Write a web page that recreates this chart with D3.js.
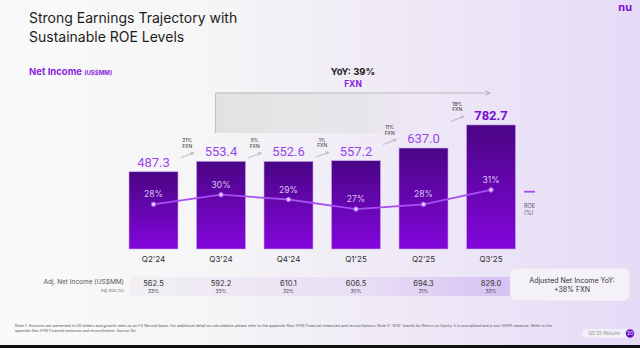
<!DOCTYPE html>
<html>
<head>
<meta charset="utf-8">
<script src="https://cdn.jsdelivr.net/npm/d3@7/dist/d3.min.js"></script>
<style>
  html, body { margin: 0; padding: 0; background: #fff; }
  svg { display: block; font-family: Inter, "Open Sans", sans-serif; }
</style>
</head>
<body>
<div id="chart"></div>
<script>
// chart values
const quarters = ["Q2'24", "Q3'24", "Q4'24", "Q1'25", "Q2'25", "Q3'25"];
const netIncome = [487.3, 553.4, 552.6, 557.2, 637.0, 782.7];
const roe = [28, 30, 29, 27, 28, 31];
const qoqGrowth = ["21%", "5%", "1%", "11%", "18%"];
const adjNetIncome = ["562.5", "592.2", "610.1", "606.5", "694.3", "829.0"];
const adjRoe = ["33%", "33%", "32%", "30%", "31%", "33%"];

const width = 640, height = 348;
const purple = "#820ad1";

const svg = d3.select("#chart").append("svg")
  .attr("width", width)
  .attr("height", height);

const defs = svg.append("defs");

// background gradient
const bg = defs.append("linearGradient").attr("id", "bg");
bg.append("stop").attr("offset", "0%").attr("stop-color", "#fafafa");
bg.append("stop").attr("offset", "35%").attr("stop-color", "#f5f4f6");
bg.append("stop").attr("offset", "100%").attr("stop-color", "#e6dbf7");

const barGrad = defs.append("linearGradient").attr("id", "barGrad")
  .attr("x1", 0).attr("y1", 0).attr("x2", 0).attr("y2", 1);
barGrad.append("stop").attr("offset", "0%").attr("stop-color", "#4a0584");
barGrad.append("stop").attr("offset", "100%").attr("stop-color", "#8306dc");

const boxGrad = defs.append("linearGradient").attr("id", "boxGrad");
boxGrad.append("stop").attr("offset", "0%").attr("stop-color", "#e2e2e2").attr("stop-opacity", 1);
boxGrad.append("stop").attr("offset", "70%").attr("stop-color", "#e6e4e8").attr("stop-opacity", 0.8);
boxGrad.append("stop").attr("offset", "100%").attr("stop-color", "#ebe3f5").attr("stop-opacity", 0);

const tableGrad = defs.append("linearGradient").attr("id", "tableGrad");
tableGrad.append("stop").attr("offset", "0%").attr("stop-color", "#f2f0f4");
tableGrad.append("stop").attr("offset", "60%").attr("stop-color", "#e8def4");
tableGrad.append("stop").attr("offset", "100%").attr("stop-color", "#d6bff3");

const arrowMarker = defs.append("marker").attr("id", "arr")
  .attr("viewBox", "0 0 10 10").attr("refX", 9).attr("refY", 5)
  .attr("markerWidth", 5).attr("markerHeight", 5).attr("orient", "auto");
arrowMarker.append("path").attr("d", "M1,1 L9,5 L1,9").attr("fill", "none")
  .attr("stroke", "#aaa").attr("stroke-width", 1.5);

svg.append("rect").attr("width", width).attr("height", height).attr("fill", "url(#bg)");
svg.append("rect").attr("y", 345).attr("width", width).attr("height", 3).attr("fill", "#111");

// logo
svg.append("text").attr("x", 632).attr("y", 11).attr("text-anchor", "end")
  .attr("font-size", 11).attr("font-weight", 700).attr("fill", purple).text("nu");

// title
const title = svg.append("text").attr("x", 29).attr("fill", "#1c1c1c").attr("font-size", 14);
title.append("tspan").attr("x", 29).attr("y", 23).text("Strong Earnings Trajectory with");
title.append("tspan").attr("x", 29).attr("y", 41.5).text("Sustainable ROE Levels");

const sub = svg.append("text").attr("x", 29).attr("y", 75).attr("fill", "#8a1de0")
  .attr("font-weight", 700).attr("font-size", 9.5);
sub.append("tspan").text("Net Income ");
sub.append("tspan").attr("font-size", 6).text("(US$MM)");

// scales
const x = d3.scaleBand().domain(quarters).range([119.75, 524.75])
  .paddingInner(0.274).paddingOuter(0.137);
const y = d3.scaleLinear().domain([0, 800]).range([249, 122.2]);
const yRoe = d3.scaleLinear().domain([20, 35]).range([242.7, 170.7]);
const cx = q => x(q) + x.bandwidth() / 2;

// YoY bracket
const bx0 = x(quarters[1]) + 19, bx1 = cx(quarters[5]) - 1;
svg.append("rect").attr("x", bx0).attr("y", 93).attr("width", 220).attr("height", 40)
  .attr("fill", "url(#boxGrad)");
svg.append("line").attr("x1", bx0).attr("x2", bx0).attr("y1", 93).attr("y2", 133)
  .attr("stroke", "#c4c4c4").attr("stroke-width", 1.2);
svg.append("line").attr("x1", bx0).attr("x2", bx1).attr("y1", 93).attr("y2", 93)
  .attr("stroke", "#b8b8b8").attr("stroke-width", 1.2).attr("marker-end", "url(#arr)");
svg.append("text").attr("x", 353).attr("y", 75).attr("text-anchor", "middle")
  .attr("font-size", 9.5).attr("font-weight", 700).attr("fill", "#222").text("YoY: 39%");
svg.append("text").attr("x", 353).attr("y", 87).attr("text-anchor", "middle")
  .attr("font-size", 8.5).attr("font-weight", 700).attr("fill", "#8a1de0").text("FXN");

// bars
svg.selectAll(".bar").data(quarters).join("rect")
  .attr("class", "bar")
  .attr("x", d => x(d))
  .attr("y", (d, i) => y(netIncome[i]))
  .attr("width", x.bandwidth())
  .attr("height", (d, i) => y(0) - y(netIncome[i]))
  .attr("fill", "url(#barGrad)")
  .attr("stroke", "#c9a6ee").attr("stroke-width", 0.6);

// value labels
svg.selectAll(".val").data(quarters).join("text")
  .attr("class", "val")
  .attr("x", d => cx(d))
  .attr("y", (d, i) => y(netIncome[i]) - 5)
  .attr("text-anchor", "middle")
  .attr("font-family", "Roboto, sans-serif")
  .attr("font-size", 13)
  .attr("font-weight", (d, i) => i === quarters.length - 1 ? 700 : 400)
  .attr("fill", (d, i) => i === quarters.length - 1 ? "#7a0fd6" : "#9a45ea")
  .text((d, i) => netIncome[i].toFixed(1));

// category labels
svg.selectAll(".cat").data(quarters).join("text")
  .attr("class", "cat")
  .attr("x", d => cx(d)).attr("y", 261.5)
  .attr("text-anchor", "middle").attr("font-size", 8).attr("fill", "#333")
  .text(d => d);

// growth arrows between bars
qoqGrowth.forEach((g, i) => {
  const ax = (x(quarters[i]) + x.bandwidth() + x(quarters[i + 1])) / 2;
  const ay = y(netIncome[i + 1]) - 6;
  svg.append("line")
    .attr("x1", ax - 6.5).attr("y1", ay + 2.5).attr("x2", ax + 6.5).attr("y2", ay - 2.5)
    .attr("stroke", "#aaa").attr("stroke-width", 0.8).attr("marker-end", "url(#arr)");
  svg.append("text").attr("x", ax).attr("y", ay - 13).attr("text-anchor", "middle")
    .attr("font-size", 5).attr("fill", "#333").text(g);
  svg.append("text").attr("x", ax).attr("y", ay - 7.5).attr("text-anchor", "middle")
    .attr("font-size", 5).attr("fill", "#333").text("FXN");
});

// ROE line
const line = d3.line().x(d => cx(d)).y((d, i) => yRoe(roe[i]));
svg.append("path").datum(quarters).attr("d", line)
  .attr("fill", "none").attr("stroke", "#a64ff2").attr("stroke-width", 1.8);
svg.selectAll(".pt").data(quarters).join("circle")
  .attr("class", "pt")
  .attr("cx", d => cx(d)).attr("cy", (d, i) => yRoe(roe[i])).attr("r", 2.3)
  .attr("fill", "#e0c8fa").attr("stroke", "#a64ff2").attr("stroke-width", 1);
svg.selectAll(".roe").data(quarters).join("text")
  .attr("class", "roe")
  .attr("x", d => cx(d)).attr("y", (d, i) => yRoe(roe[i]) - 7)
  .attr("text-anchor", "middle").attr("font-size", 8.5).attr("fill", "#d9c3f5")
  .text((d, i) => roe[i] + "%");

// ROE legend
svg.append("line").attr("x1", 524).attr("x2", 535).attr("y1", 191.7).attr("y2", 191.7)
  .attr("stroke", "#a64ff2").attr("stroke-width", 1.8);
svg.append("text").attr("x", 524).attr("y", 208).attr("font-size", 5.5).attr("fill", "#555").text("ROE");
svg.append("text").attr("x", 524).attr("y", 215).attr("font-size", 5.5).attr("fill", "#555").text("(%)");

// adjusted table
svg.append("rect").attr("x", 130).attr("y", 277).attr("width", 390).attr("height", 19)
  .attr("rx", 3).attr("fill", "url(#tableGrad)");
svg.append("text").attr("x", 124).attr("y", 283.5).attr("text-anchor", "end")
  .attr("font-size", 6.5).attr("fill", "#555").text("Adj. Net Income (US$MM)");
svg.append("text").attr("x", 124).attr("y", 292).attr("text-anchor", "end")
  .attr("font-size", 3.8).attr("fill", "#666").text("Adj. ROE (%)");
svg.selectAll(".adj").data(quarters).join("text")
  .attr("class", "adj")
  .attr("x", d => cx(d)).attr("y", 285.5)
  .attr("text-anchor", "middle").attr("font-size", 7.5).attr("fill", "#333")
  .text((d, i) => adjNetIncome[i]);
svg.selectAll(".adjroe").data(quarters).join("text")
  .attr("class", "adjroe")
  .attr("x", d => cx(d)).attr("y", 293)
  .attr("text-anchor", "middle").attr("font-size", 5).attr("fill", "#444")
  .text((d, i) => adjRoe[i]);

// right callout
svg.append("rect").attr("x", 510).attr("y", 268).attr("width", 120).attr("height", 33)
  .attr("rx", 6).attr("fill", "#f4f1f8").attr("stroke", "#e4dcee").attr("stroke-width", 0.6);
svg.append("text").attr("x", 572).attr("y", 283).attr("text-anchor", "middle")
  .attr("font-size", 7).attr("fill", "#333").text("Adjusted Net Income YoY:");
svg.append("text").attr("x", 572).attr("y", 292).attr("text-anchor", "middle")
  .attr("font-size", 7).attr("fill", "#333").text("+38% FXN");

// footnote
svg.append("text").attr("x", 15).attr("y", 327).attr("font-size", 3.6).attr("fill", "#555")
  .attr("textLength", 537).attr("lengthAdjust", "spacingAndGlyphs")
  .text("Note 1: Amounts are presented in US dollars and growth rates on an FX Neutral basis. For additional detail on calculations please refer to the appendix Non-IFRS Financial measures and reconciliations. Note 2: 'ROE' stands for Return on Equity. It is annualized and a non-GAAP measure. Refer to the");
svg.append("text").attr("x", 15).attr("y", 332).attr("font-size", 3.6).attr("fill", "#555")
  .text("appendix Non-IFRS Financial measures and reconciliations. Source: Nu.");

// page badge
svg.append("rect").attr("x", 582).attr("y", 329).attr("width", 52).attr("height", 9)
  .attr("rx", 4.5).attr("fill", "#f2eff6");
svg.append("text").attr("x", 604).attr("y", 335).attr("text-anchor", "middle")
  .attr("font-size", 4.8).attr("fill", "#999").text("Q3'25 Results");
svg.append("circle").attr("cx", 630).attr("cy", 333.5).attr("r", 4.2).attr("fill", "#6a0cc8");
svg.append("text").attr("x", 630).attr("y", 335.3).attr("text-anchor", "middle")
  .attr("font-size", 4.8).attr("fill", "#fff").text("20");
</script>
</body>
</html>
